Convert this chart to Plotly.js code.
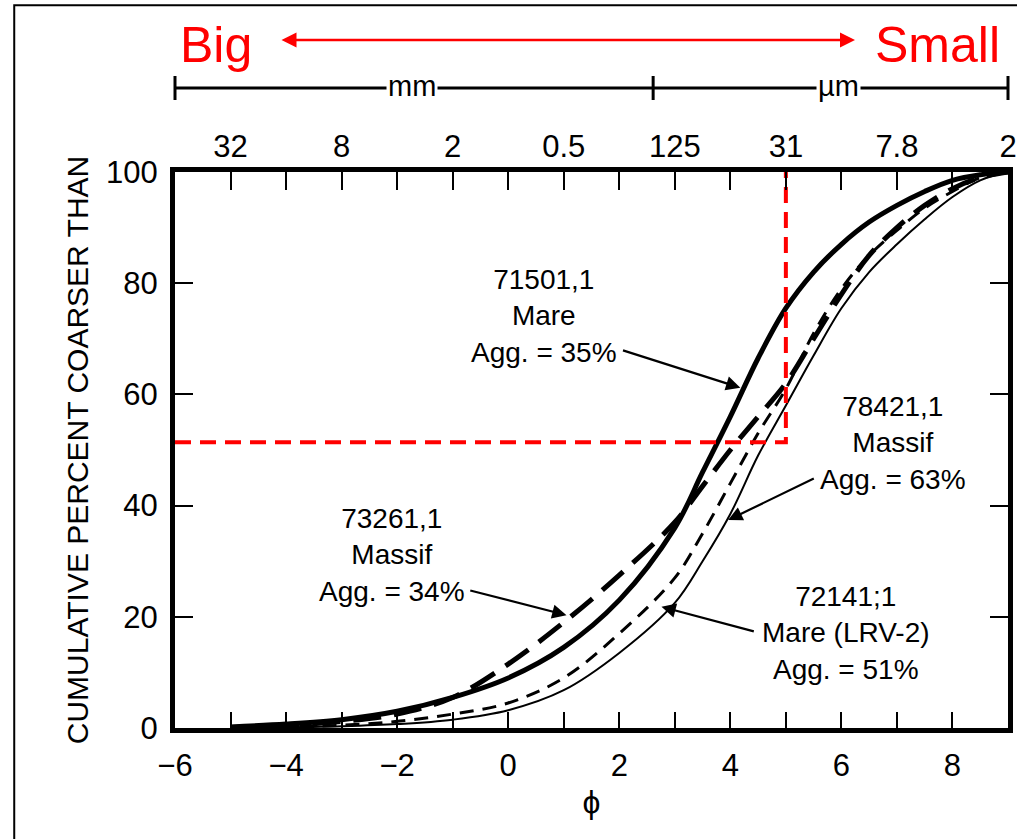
<!DOCTYPE html>
<html><head><meta charset="utf-8">
<script src="https://cdn.plot.ly/plotly-3.0.1.min.js"></script>
<style>html,body{margin:0;padding:0;background:#fff;} #chart{width:1017px;height:839px;}</style>
</head><body><div id="chart"></div>
<script>
// phi grid (x values)
const phi = [-5,-4,-3,-2,-1,0,1,2,3,3.5,4,4.5,5,5.5,6,6.5,7,7.5,8,8.5,9];
// cumulative percent coarser than
const s71501 = [0.2,0.7,1.5,3,5.5,9,14.5,23,36,46,56,66.5,75.5,82,87,91,94,96.5,98.5,99.5,100];
const s73261 = [0.1,0.5,1.2,2.5,5.5,11.5,19,27.5,37,43.5,50,56,62,70,78,85,90,94,97,99,100];
const s78421 = [0,0.2,0.5,1.2,2.5,4.5,9,17,27,35,44,53,61,71,79,85,89.5,93.5,96.5,99,100];
const s72141 = [0,0.1,0.3,0.7,1.5,3.2,6.8,13.5,22.5,30,38.5,49,58,67,75.5,82,87,91.5,95.5,98.5,100];
// red reference (median) lines
const refPhi = [-6,5,5];
const refPct = [51.4,51.4,100];
// top axis (grain size) tick labels
const topTickPhi = [-5,-3,-1,1,3,5,7,9];
const topTickText = ['32','8','2','0.5','125','31','7.8','2'];
// labels
const labels = [
  {text:'71501,1<br>Mare<br>Agg. = 35%', x:0.64, y:74.1, tail:[2.04,68.0], tip:[4.18,61.2]},
  {text:'73261,1<br>Massif<br>Agg. = 34%', x:-2.10, y:31.1, tail:[-0.71,24.8], tip:[1.05,20.3]},
  {text:'78421,1<br>Massif<br>Agg. = 63%', x:6.93, y:51.3, tail:[5.53,45.0], tip:[3.96,37.4]},
  {text:'72141;1<br>Mare (LRV-2)<br>Agg. = 51%', x:6.09, y:17.1, tail:[4.45,17.3], tip:[2.76,21.8]}
];

const FONT = 'Liberation Sans, Arial, Helvetica, sans-serif';

const traces = [
  {x:phi, y:s73261, mode:'lines', line:{color:'black', width:5, dash:'28px,13px', shape:'spline'}, showlegend:false, hoverinfo:'skip'},
  {x:phi, y:s78421, mode:'lines', line:{color:'black', width:3, dash:'14px,9px', shape:'spline'}, showlegend:false, hoverinfo:'skip'},
  {x:phi, y:s72141, mode:'lines', line:{color:'black', width:2, shape:'spline'}, showlegend:false, hoverinfo:'skip'},
  {x:phi, y:s71501, mode:'lines', line:{color:'black', width:5, shape:'spline'}, showlegend:false, hoverinfo:'skip'},
  {x:refPhi, y:refPct, mode:'lines', line:{color:'#ff0000', width:4, dash:'16px,9px'}, showlegend:false, hoverinfo:'skip'},
  {x:phi, y:s71501, mode:'none', xaxis:'x2', showlegend:false, hoverinfo:'skip'}
];

const annotations = [];
labels.forEach(l => {
  annotations.push({x:l.x, y:l.y, xref:'x', yref:'y', xanchor:'center', yanchor:'middle', text:l.text, showarrow:false,
    font:{family:FONT, size:28, color:'black'}, align:'center'});
  annotations.push({x:l.tip[0], y:l.tip[1], ax:l.tail[0], ay:l.tail[1], xref:'x', yref:'y', axref:'x', ayref:'y',
    text:'', showarrow:true, arrowhead:2, arrowsize:1.3, arrowwidth:2.2, arrowcolor:'black'});
});
// Big <-> Small
annotations.push({x:0.049, y:1.228, xref:'paper', yref:'paper', xanchor:'center', yanchor:'middle', text:'Big', showarrow:false,
  font:{family:FONT, size:50, color:'#ff0000'}});
annotations.push({x:0.915, y:1.228, xref:'paper', yref:'paper', xanchor:'center', yanchor:'middle', text:'Small', showarrow:false,
  font:{family:FONT, size:50, color:'#ff0000'}});
annotations.push({x:0.8163, y:1.2374, xref:'paper', yref:'paper', ax:-575, ay:0, text:'', showarrow:true,
  arrowside:'end+start', arrowhead:2, arrowsize:1.2, arrowwidth:2.5, arrowcolor:'#ff0000'});
// mm / µm
annotations.push({x:0.2845, y:1.155, xref:'paper', yref:'paper', xanchor:'center', yanchor:'middle', text:'mm', showarrow:false, bgcolor:'white',
  font:{family:FONT, size:29, color:'black'}, borderpad:1});
annotations.push({x:0.796, y:1.155, xref:'paper', yref:'paper', xanchor:'center', yanchor:'middle', text:'µm', showarrow:false, bgcolor:'white',
  font:{family:FONT, size:29, color:'black'}, borderpad:1});

const shapes = [
  {type:'line', xref:'paper', yref:'paper', x0:0, x1:1, y0:1.151, y1:1.151, line:{color:'black', width:3}},
  {type:'line', xref:'paper', yref:'paper', x0:0, x1:0, y0:1.1295, y1:1.1727, line:{color:'black', width:3}},
  {type:'line', xref:'paper', yref:'paper', x0:0.574, x1:0.574, y0:1.1295, y1:1.1727, line:{color:'black', width:3}},
  {type:'line', xref:'paper', yref:'paper', x0:1, x1:1, y0:1.1295, y1:1.1727, line:{color:'black', width:3}},
  {type:'rect', xref:'paper', yref:'paper', x0:-0.193, x1:1.2, y0:-0.5, y1:1.300, line:{color:'black', width:2}, layer:'below'}
];

const tickFont = {family:FONT, size:31, color:'black'};
const layout = {
  width:1017, height:839,
  margin:{l:175, r:9, t:172, b:111, pad:0},
  paper_bgcolor:'white', plot_bgcolor:'white',
  showlegend:false,
  xaxis:{range:[-6,9], tick0:-6, dtick:2, ticks:'inside', ticklen:16, tickwidth:2, tickcolor:'black',
    minor:{dtick:1, ticks:'inside', ticklen:16, tickwidth:2, tickcolor:'black'},
    showline:true, linewidth:5, linecolor:'black', mirror:true, showgrid:false, zeroline:false,
    tickfont:tickFont, ticklabelstandoff:6,
    title:{text:'ϕ', font:{family:FONT, size:32, color:'black'}, standoff:10}},
  xaxis2:{overlaying:'x', side:'top', anchor:'y', range:[-6,9], tickmode:'array', tickvals:topTickPhi, ticktext:topTickText,
    ticks:'inside', ticklen:18, tickwidth:2, tickcolor:'black',
    minor:{dtick:1, tick0:-6, ticks:'inside', ticklen:18, tickwidth:2, tickcolor:'black'},
    showline:false, showgrid:false, zeroline:false, tickfont:tickFont, ticklabelstandoff:8},
  yaxis:{range:[0,100], dtick:20, ticks:'inside', ticklen:18, tickwidth:2, tickcolor:'black',
    showline:true, linewidth:5, linecolor:'black', mirror:'ticks', showgrid:false, zeroline:false,
    tickfont:tickFont, ticklabelstandoff:6,
    title:{text:'CUMULATIVE PERCENT COARSER THAN', font:{family:FONT, size:30, color:'black'}, standoff:10}},
  annotations:annotations,
  shapes:shapes
};

Plotly.newPlot('chart', traces, layout, {displayModeBar:false, staticPlot:true});
</script>
</body></html>
